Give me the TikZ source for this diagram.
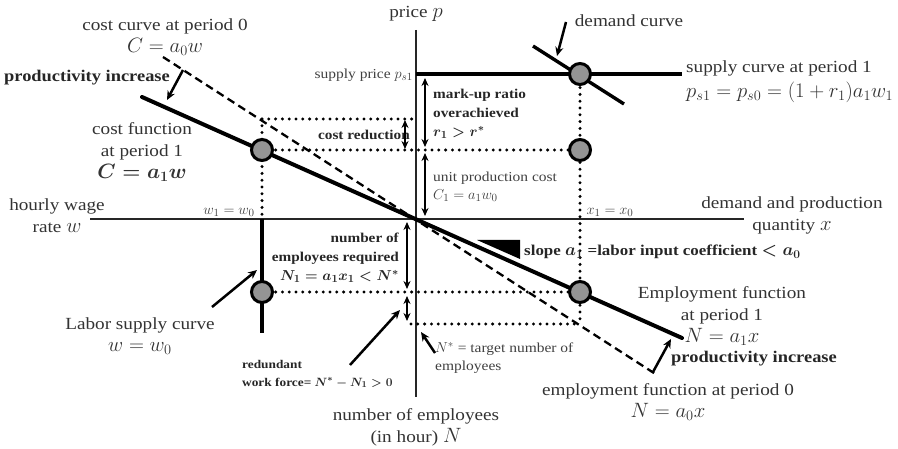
\documentclass[tikz,border=0pt]{standalone}
\usepackage{fontspec}
\setmainfont{Liberation Serif}[FakeStretch=1.13]
\usetikzlibrary{arrows.meta}
\DeclareMathSizes{17}{20.3}{14.5}{10.5}
\DeclareMathSizes{13.7}{14.8}{10.5}{8}
\DeclareMathSizes{13.5}{14.6}{10.5}{8}
\DeclareMathSizes{11.8}{13}{9.5}{7.5}
\DeclareMathSizes{15}{16}{11.5}{8.5}
\pgfdeclarelayer{bg}
\pgfsetlayers{bg,main}
\begin{document}
\begin{tikzpicture}[x=1pt,y=-1pt,
  axis/.style={line width=1.6pt,black!85},
  thickln/.style={line width=4pt,line cap=round},
  supln/.style={line width=3.4pt},
  dashln/.style={line width=2.3pt,dash pattern=on 8pt off 4.8pt},
  dotln/.style={line width=3.3pt,line cap=round,dash pattern=on 0pt off 6.8pt},
  dot/.style={circle,draw=black,line width=3pt,fill=black!42,minimum size=21pt,inner sep=0pt},
  darr/.style={line width=2pt,{Stealth[length=8pt,width=7pt]}-{Stealth[length=8pt,width=7pt]}},
  sarr/.style={line width=2.5pt,-{Stealth[length=9pt,width=8pt]}},
  big/.style={font=\fontsize{17}{22}\selectfont,text=black!80,inner sep=0pt},
  bigb/.style={font=\fontsize{16.3}{19}\selectfont\bfseries\boldmath,text=black!85,inner sep=0pt},
  small/.style={font=\fontsize{13.7}{18}\selectfont,text=black!75,inner sep=0pt},
  smallb/.style={font=\fontsize{13.5}{19}\selectfont\bfseries\boldmath,text=black!85,inner sep=0pt}
]
\useasboundingbox (0,0) rectangle (898,449);
% key points
\coordinate (O) at (416,219);
\coordinate (vtop) at (416,30);
\coordinate (vbot) at (416,397);
\coordinate (hl) at (90,219);
\coordinate (hr) at (744,219);
\coordinate (sL) at (416,74);
\coordinate (sR) at (682,74);
\coordinate (dA) at (533,46);
\coordinate (dB) at (624,104);
\coordinate (cA) at (142,97);
\coordinate (cB) at (682,338);
\coordinate (kA) at (163,57);
\coordinate (kB) at (657,375);
\coordinate (lA) at (262,219);
\coordinate (lB) at (262,333);
\coordinate (q0) at (262,119);
\coordinate (q0r) at (416,119);
\coordinate (Ns) at (580,324);
\coordinate (Nsl) at (411,324);
% dots
\node[dot] (S) at (580,74) {};
\node[dot] (E) at (580,150) {};
\node[dot] (C1) at (262,150) {};
\node[dot] (L) at (262,292) {};
\node[dot] (M) at (580,292) {};

\begin{pgfonlayer}{bg}
  \draw[axis] (vtop) -- (vbot);
  \draw[axis] (hl) -- (hr);
  \draw[dotln] (q0) -- (q0r);
  \draw[dotln] (q0) -- (lA);
  \draw[dotln] (C1.center) -- (E.center);
  \draw[dotln] (S.center) -- (Ns);
  \draw[dotln] (L.center) -- (M.center);
  \draw[dotln] (Nsl) -- (Ns);
  \draw[dashln] (kA) -- (kB);
  \draw[thickln] (cA) -- (cB);
  \draw[supln] (sL) -- (sR);
  \draw[supln] (dA) -- (dB);
  \draw[supln] (lA) -- (lB);
\end{pgfonlayer}

% slope triangle
\coordinate (t1) at (477,240);
\coordinate (t2) at (520,240);
\coordinate (t3) at (520,259);
\fill (t1) -- (t2) -- (t3) -- cycle;

% double arrows
\coordinate (m1) at (425,78);  \coordinate (m2) at (425,147);
\coordinate (u1) at (425,153); \coordinate (u2) at (425,216);
\coordinate (r1) at (405,120); \coordinate (r2) at (405,149);
\coordinate (n1) at (407,222); \coordinate (n2) at (407,289);
\coordinate (e1) at (407,296); \coordinate (e2) at (407,321);

% single arrows
\coordinate (ad1) at (566,22);  \coordinate (ad2) at (557,56);
\coordinate (ap1) at (183,70);  \coordinate (ap2) at (167,100);
\coordinate (aq1) at (653,372); \coordinate (aq2) at (671,339);
\coordinate (al1) at (212,307); \coordinate (al2) at (257,270);
\coordinate (ar1) at (350,365); \coordinate (ar2) at (400,310);
\coordinate (an1) at (435,353); \coordinate (an2) at (421,332);

% labels
\node[big] (tp) at (416,14) {price $p$};
\node[big,align=center] (tcc0) at (165,37) {cost curve at period 0\\$C=a_0w$};
\node[bigb,anchor=west] (tpi1) at (4,78) {productivity increase};
\node[big,align=center] (tcf1) at (142,152) {cost function\\at period 1\\{\bfseries\boldmath$C=a_1w$}};
\node[big,align=center] (thw) at (57,216) {hourly wage\\rate $w$};
\node[small] (tw) at (229,212) {$w_1=w_0$};
\node[small,anchor=east] (tsp) at (413,75) {supply price $p_{s1}$};
\node[smallb,align=left,anchor=west] (tmu) at (433,114) {mark-up ratio\\overachieved\\$r_1>r^*$};
\node[smallb,anchor=east] (tcr) at (410,135) {cost reduction};
\node[small,align=left,anchor=west] (tuc) at (433,187) {unit production cost\\$C_1=a_1w_0$};
\node[small] (tx) at (610,212) {$x_1=x_0$};
\node[big,align=center] (tdq) at (792,215) {demand and production\\quantity $x$};
\node[big] (tdc) at (629,21) {demand curve};
\node[big,align=left,anchor=west] (tsc) at (686,82) {supply curve at period 1\\[3pt]$p_{s1}=p_{s0}=(1+r_1)a_1w_1$};
\node[smallb,align=right,anchor=east] (tne) at (399,258) {number of\\employees required\\$N_1=a_1x_1<N^*$};
\node[smallb,font=\fontsize{15}{19}\selectfont\bfseries\boldmath, anchor=west] (tsl) at (524,252) {slope $a_1$ =labor input coefficient $<a_0$};
\node[big,align=center] (tef1) at (722,316) {Employment function\\at period 1\\$N=a_1x$};
\node[bigb,anchor=west] (tpi2) at (671,359) {productivity increase};
\node[big,align=center] (tef0) at (668,402) {employment function at period 0\\$N=a_0x$};
\node[big,align=center] (tls) at (140,336) {Labor supply curve\\$w=w_0$};
\node[smallb,font=\fontsize{11.8}{18}\selectfont\bfseries\boldmath,align=left,anchor=west] (trw) at (242,374) {redundant\\work force= $N^*-N_1>0$};
\node[small,align=left,anchor=west] (tns) at (435,358) {$N^*$ = target number of\\employees};
\node[big,align=center] (tnn) at (416,427) {number of employees\\(in hour) $N$};

\draw[darr] (m1) -- (m2);
\draw[darr] (u1) -- (u2);
\draw[darr] (r1) -- (r2);
\draw[darr] (n1) -- (n2);
\draw[darr] (e1) -- (e2);
\draw[sarr] (ad1) -- (ad2);
\draw[sarr] (ap1) -- (ap2);
\draw[sarr] (aq1) -- (aq2);
\draw[sarr] (al1) -- (al2);
\draw[sarr] (ar1) -- (ar2);
\draw[sarr] (an1) -- (an2);
\end{tikzpicture}
\end{document}
